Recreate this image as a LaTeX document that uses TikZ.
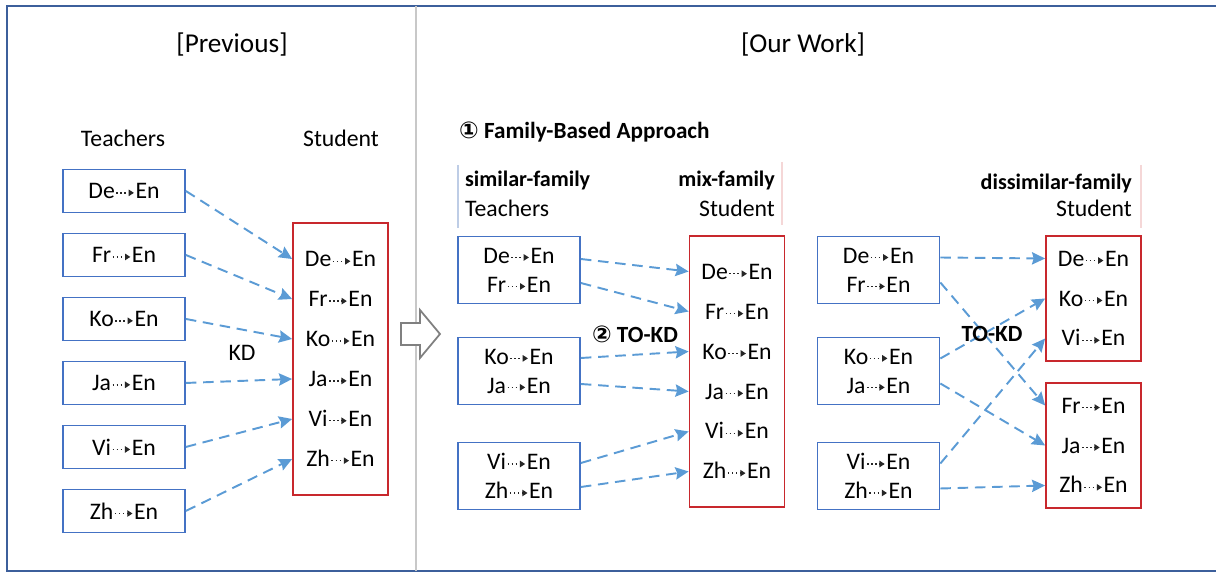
\documentclass[tikz,border=0pt]{standalone}
\usepackage{fontspec}
\setmainfont{Carlito}
\newfontfamily\symfont{DejaVu Sans}
\usepackage{tikz}
\usetikzlibrary{shapes,arrows,arrows.meta}
\definecolor{teacherBlue}{RGB}{68,114,196}
\definecolor{studentRed}{RGB}{200,40,45}
\definecolor{kdBlue}{RGB}{91,155,213}
\definecolor{frameBlue}{RGB}{60,95,155}
\definecolor{sepGray}{RGB}{200,200,200}
\definecolor{barBlue}{RGB}{190,205,230}
\definecolor{barPink}{RGB}{245,215,215}
\tikzstyle{teacher} = [draw=teacherBlue,line width=1pt,rectangle,fill=white,minimum width=2.44cm,minimum height=0.86cm]
\tikzstyle{teacherPair} = [teacher,minimum height=1.34cm,align=center,font=\fontsize{13.5}{16.5}\selectfont]
\tikzstyle{student} = [draw=studentRed,line width=1pt,rectangle,fill=white,minimum width=1.9cm,align=center,font=\fontsize{13.5}{22.7}\selectfont]
\tikzstyle{head} = [inner sep=1pt]
\tikzstyle{boldHead} = [head,font=\fontsize{12.6}{16}\selectfont\bfseries]
\tikzstyle{arrowLine} = [draw=kdBlue,line width=1.1pt,dash pattern=on 6pt off 3.8pt,-{Stealth[length=7.5pt,width=7pt,inset=1pt]}]
% small dotted arrow inside the language pairs
\newcommand{\dotto}{\kern0.5pt\tikz[baseline=-0.5ex]\draw[black!85,line width=0.8pt,dash pattern=on 0.8pt off 1.5pt,-{Triangle[length=3pt,width=3.6pt]}] (0pt,0pt) -- (10pt,0pt);\kern0.5pt}

\begin{document}
\begin{tikzpicture}[x=0.02cm,y=-0.02cm,every node/.style={font=\fontsize{13.5}{16}\selectfont}]
	\useasboundingbox (0,0) rectangle (1216,573);
	% frame and divider
	\draw[frameBlue,line width=1.3pt] (1230,6) -- (7,6) -- (7,571) -- (1230,571);
	\draw[sepGray,line width=1.2pt] (416,6) -- (416,571);
	\draw[gray,line width=1pt,fill=white] (401,323) -- (420,323) -- (420,310) -- (440,334) -- (420,358) -- (420,345) -- (401,345) -- cycle;
	\node[font=\fontsize{15.5}{18}\selectfont](prevTitle) at (232,45){[Previous]};
	\node[font=\fontsize{15.5}{18}\selectfont](ourTitle) at (803,45){[Our Work]};

	% previous: one teacher per language
	\node[head](prevTeachers) at (123,138){Teachers};
	\node[head](prevStudent) at (341,138){Student};
	\node[teacher,node distance=1.28cm](tDe) at (124,191){De\dotto En};
	\node[teacher,below of=tDe,node distance=1.28cm](tFr){Fr\dotto En};
	\node[teacher,below of=tFr,node distance=1.28cm](tKo){Ko\dotto En};
	\node[teacher,below of=tKo,node distance=1.28cm](tJa){Ja\dotto En};
	\node[teacher,below of=tJa,node distance=1.28cm](tVi){Vi\dotto En};
	\node[teacher,below of=tVi,node distance=1.28cm](tZh){Zh\dotto En};
	\node[student,minimum height=5.44cm](sPrev) at (340.5,359){De\dotto En\\Fr\dotto En\\Ko\dotto En\\Ja\dotto En\\Vi\dotto En\\Zh\dotto En};
	\node(kd) at (242,353){KD};
	%arrows
	\path[arrowLine](tDe.east)--([yshift=2.0cm]sPrev.west);
	\path[arrowLine](tFr.east)--([yshift=1.2cm]sPrev.west);
	\path[arrowLine](tKo.east)--([yshift=0.4cm]sPrev.west);
	\path[arrowLine](tJa.east)--([yshift=-0.4cm]sPrev.west);
	\path[arrowLine](tVi.east)--([yshift=-1.2cm]sPrev.west);
	\path[arrowLine](tZh.east)--([yshift=-2.0cm]sPrev.west);

	% our work: similar-family teachers, mix-family student
	\node[anchor=west,font=\fontsize{13.2}{16}\selectfont\bfseries](famTitle) at (453,132){{\symfont ①} Family-Based Approach};
	\draw[barBlue,line width=1.5pt] (458,165) -- (458,228);
	\draw[barPink,line width=1.5pt] (782,162) -- (782,225);
	\node[boldHead,anchor=west](simFam) at (463,180){similar-family};
	\node[head,anchor=west](simTeachers) at (463,208){Teachers};
	\node[boldHead,anchor=east](mixFam) at (777,180){mix-family};
	\node[head,anchor=east](mixStudent) at (777,208){Student};
	\node[teacherPair](mixA) at (519,270){De\dotto En\\Fr\dotto En};
	\node[teacherPair](mixB) at (519,371){Ko\dotto En\\Ja\dotto En};
	\node[teacherPair](mixC) at (519,476){Vi\dotto En\\Zh\dotto En};
	\node[student,minimum height=5.42cm](sMix) at (737,371.5){De\dotto En\\Fr\dotto En\\Ko\dotto En\\Ja\dotto En\\Vi\dotto En\\Zh\dotto En};
	\node[font=\fontsize{13.2}{16}\selectfont\bfseries](toKdMix) at (635,334){{\symfont ②} TO-KD};
	%arrows
	\path[arrowLine]([yshift=0.22cm]mixA.east)--([yshift=2.0cm]sMix.west);
	\path[arrowLine]([yshift=-0.26cm]mixA.east)--([yshift=1.2cm]sMix.west);
	\path[arrowLine]([yshift=0.26cm]mixB.east)--([yshift=0.4cm]sMix.west);
	\path[arrowLine]([yshift=-0.26cm]mixB.east)--([yshift=-0.4cm]sMix.west);
	\path[arrowLine]([yshift=0.26cm]mixC.east)--([yshift=-1.2cm]sMix.west);
	\path[arrowLine]([yshift=-0.22cm]mixC.east)--([yshift=-2.0cm]sMix.west);

	% our work: dissimilar-family students
	\draw[barPink,line width=1.5pt] (1141,165) -- (1141,228);
	\node[boldHead,anchor=east](disFam) at (1134,183){dissimilar-family};
	\node[head,anchor=east](disStudent) at (1134,208){Student};
	\node[teacherPair](disA) at (878.5,270){De\dotto En\\Fr\dotto En};
	\node[teacherPair](disB) at (878.5,371){Ko\dotto En\\Ja\dotto En};
	\node[teacherPair](disC) at (878.5,476){Vi\dotto En\\Zh\dotto En};
	\node[student,minimum height=2.5cm](sTop) at (1093.5,298.5){De\dotto En\\Ko\dotto En\\Vi\dotto En};
	\node[student,minimum height=2.5cm](sBot) at (1093.5,445.5){Fr\dotto En\\Ja\dotto En\\Zh\dotto En};
	%arrows
	\path[arrowLine]([yshift=0.25cm]disA.east)--([yshift=0.8cm]sTop.west);
	\path[arrowLine]([yshift=-0.25cm]disA.east)--([yshift=0.8cm]sBot.west);
	\path[arrowLine]([yshift=0.25cm]disB.east)--(sTop.west);
	\path[arrowLine]([yshift=-0.25cm]disB.east)--(sBot.west);
	\path[arrowLine]([yshift=0.25cm]disC.east)--([yshift=-0.8cm]sTop.west);
	\path[arrowLine]([yshift=-0.25cm]disC.east)--([yshift=-0.8cm]sBot.west);
	\node[font=\fontsize{13.2}{16}\selectfont\bfseries](toKdDis) at (992,334){TO-KD};
\end{tikzpicture}
\end{document}
